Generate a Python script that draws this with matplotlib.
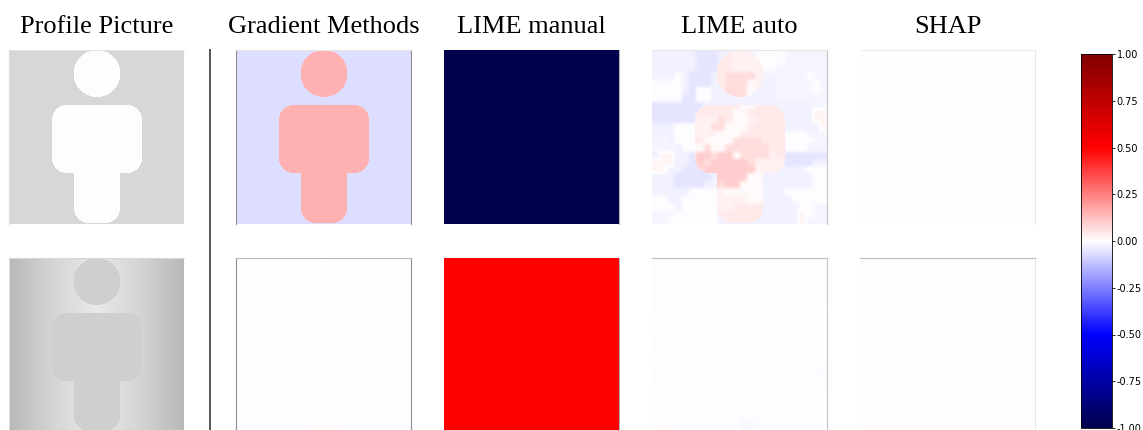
import matplotlib
matplotlib.use("Agg")
import matplotlib.pyplot as plt
import numpy as np
from matplotlib.lines import Line2D

titles = ["Profile Picture", "Gradient Methods", "LIME manual", "LIME auto", "SHAP"]
cbar_ticks = [-1.0, -0.75, -0.5, -0.25, 0.0, 0.25, 0.5, 0.75, 1.0]

# gray levels of the inputs
profile_top = [0.84, 0.99]
profile_bottom_stops = [0.91, 0.83, 0.72]
profile_bottom_person = 0.81

# attribution values (background, person)
gradient_top = [-0.069, 0.153]
gradient_bottom = [-0.006, 0.002]
manual_top = [-1.0, -1.0]
manual_bottom = [0.5, 0.5]
shap_top = [0.003, 0.003]
shap_bottom = [0.002, 0.002]

levels = {"w": -0.005, "a": -0.018, "b": -0.028, "c": -0.05, "p": 0.018,
          "q": 0.008, "r": 0.025, "s": 0.04, "t": 0.065, "u": 0.1}
lime_top_bg = [
    "bbbbbbcccbbbbbwwwwaaaaaa",
    "bbbbbbcccbbbbbwwwwaaaaaa",
    "bbbbbbcccbbbbbwwwaaaaaaa",
    "bbbwbcccbbbbbbbbbaaaawaa",
    "wwwwbcccbbbbbbbbbaaaaawa",
    "wwwwbcwwbbbbbbbbbaaaaawa",
    "wwwwccwwbbbbbbbbbaaaaaaa",
    "cccccccbbbbbbbbbbbbbbbaa",
    "ccccccccbbbbbbbbbbbbbbpp",
    "ccccccccbbbbbbbbbbbbbbpp",
    "bbbwwwwwbbbbbbbbbbbbbbbp",
    "bbbwwwwwbbbbbbbbbbwwwaaa",
    "aabwwwwwbbbbbbbbbbwwwwaa",
    "aaabwwwwbbbbbbbbbbwwwaaa",
    "bppbbcccbbbbbbbbbbcccccc",
    "pppbbcccbbbbbbbbbbccccbb",
    "ppbbccccbbbbbbbbbbbbbwww",
    "bbbcccccbbbbbbbbbbbbbbww",
    "bbbccccbbbbbbbbbbbbbbbww",
    "bbbbbwwwwbbbbbbbbbwwwwww",
    "wwbbwwwwwbbbbbbbbbbwwwww",
    "wwwbwwwwwbbbbbbbbbbbwwaa",
    "aaawwwwwwbbbbbbbbbbbpwaa",
    "aawwwwwwwbbbbbbbbbbbpaaa",
]
lime_top_person = [
    "sssssssssssrrrrrrsssssss",
    "sssssssssssrrrrrssssssss",
    "sssssssssssrrrrrrsssssss",
    "ssssssssssttttrrssssssss",
    "sssssssssstttqrrssssssss",
    "sssssssssstttqrrssssssss",
    "sssssssssstttqrrssssssss",
    "ssssssssssssqqssssssssss",
    "sssssssssssqqsssssssssss",
    "ssssssrrrtsqqrssssssssss",
    "ssssssrrttqqqsssssssssss",
    "ssssssrrrqqqssssssssssss",
    "sssssssqqqqttttsssssssss",
    "sssssqqtqqttttttssssssss",
    "ssssssuutuuqttttrsssssss",
    "ssssstutuuuuutrrrrssssss",
    "sssssrtuuuuuuurrrrssssss",
    "ssssstuuuuuuuqqrrrssssss",
    "ssssssssutuuqqqqqsssssss",
    "ssssssssrrqqqqqqqsssssss",
    "sssssssssrrrrqqqqsssssss",
    "ssssssssrrrssssssrrsssss",
    "sssssssssssssssssrrsssss",
    "ssssssssrrsssssssqqsssss",
]
lime_bottom_levels = {"n": -0.001, "o": -0.004, "x": -0.009, "y": 0.003, "z": 0.006}
lime_bottom_bg = [
    "nynyyyyyyyyynooonnnnnnnn",
    "nnnyyyyyyyyynooonnnnnnnn",
    "nnnyyynnnnnnnooonnnnnnnn",
    "oonyyynnnnnnnooonnnnnnnn",
    "oonnnnnnnnyzynnnnnnnnnnn",
    "oonnnnnnnnyzzynnnnnnnnnn",
    "oonnnnnnnnyzzynnnnnnnnoo",
    "oonnnnnnyzzzzynnnnnnnnyy",
    "yyyyynnnyzzzzynnnnnnnnyy",
    "yyyyynnnnoooooooonnnnnyy",
    "nnyyynnnnnnnnooooooonnyy",
    "nnyyynnnnnnnnooooooonnyy",
    "nnyyynnnnnnnnoooooyyzzyy",
    "yyyyynnnnnnnnoooooyyzzyy",
    "yyyynnnnnnnnnnoooooyyyoo",
    "nnnnnnnnnnnnnnoooooyyyxo",
    "nnnnnnnnnnnnnnnooooyyynn",
    "nnnnnnnnnnnnnnnnnnnyyynn",
    "yynnnnnnnnnnnnnnnyyyyyyn",
    "yynnnnnnnnnnnnnnnyyyyyyz",
    "yynnnnnnnoooooooonnnnnzz",
    "yyynnnnnnoooooooonnnnnzz",
    "yyynnnnnnoooxxooonnnnnyy",
    "yyynnnnnnoooxxooonnnnnnn",
]

# which edges each column shows: left, right, top (row 1 / row 2)
edge_left = ["#dddddd", "#909090", None, None, None]
edge_right = [None, "#909090", "#b0b0b0", "#c4c4c4", "#e8e8e8"]
edge_top = [["#e4e4e4", "#e4e4e4", None, "#e6e6e6", "#eeeeee"],
            ["#d8d8d8", "#b8b8b8", None, "#bcbcbc", "#bcbcbc"]]


def person_mask(n=175):
    y, x = np.mgrid[0:n, 0:n] + 0.5
    mask = (x - 88) ** 2 + (y - 23.5) ** 2 < 23.5 ** 2
    for x0, x1, y0, y1, r in [(43, 133, 55, 124, 15), (65, 111, 100, 174, 15)]:
        dx = np.maximum(np.maximum(x0 + r - x, x - (x1 - r)), 0)
        dy = np.maximum(np.maximum(y0 + r - y, y - (y1 - r)), 0)
        mask = mask | (dx ** 2 + dy ** 2 < r ** 2)
    return mask


def grid_to_image(rows, table, n=175, soften=5):
    arr = np.array([[table[c] for c in row[:24].ljust(24, row[-1])] for row in rows])
    idx = np.arange(n) * len(rows) // n
    img = arr[np.ix_(idx, idx)]
    # take the hard stairs off the hand read cells
    pad = np.pad(img, soften, mode="edge")
    box = np.ones(soften) / soften
    pad = np.apply_along_axis(np.convolve, 0, pad, box, "same")
    pad = np.apply_along_axis(np.convolve, 1, pad, box, "same")
    return pad[soften:-soften, soften:-soften]


mask = person_mask()


def two_level(vals):
    return np.where(mask, vals[1], vals[0])


grad = np.interp(np.abs(np.linspace(-1, 1, 175)), [0, 0.5, 1], profile_bottom_stops)
profile_bottom = np.where(mask, profile_bottom_person, grad[None, :])

lime_top = np.where(mask, grid_to_image(lime_top_person, levels), grid_to_image(lime_top_bg, levels))
lime_bottom = grid_to_image(lime_bottom_bg, lime_bottom_levels)

W, H = 1143, 430
fig = plt.figure(figsize=(W / 100, H / 100), dpi=100)

lefts = [9, 236, 444, 652, 860]
images = [
    [two_level(profile_top), two_level(gradient_top), two_level(manual_top), lime_top, two_level(shap_top)],
    [profile_bottom, two_level(gradient_bottom), two_level(manual_bottom), lime_bottom, two_level(shap_bottom)],
]
for r, top in enumerate([50, 258]):
    for c, left in enumerate(lefts):
        ax = fig.add_axes([left / W, 1 - (top + 174) / H, 175 / W, 174 / H])
        ax.set_xticks([])
        ax.set_yticks([])
        ax.spines["bottom"].set_visible(False)
        for side, col in [("left", edge_left[c]), ("right", edge_right[c]), ("top", edge_top[r][c])]:
            ax.spines[side].set_visible(col is not None)
            if col is not None:
                ax.spines[side].set_color(col)
                ax.spines[side].set_linewidth(0.8)
        if c == 0:
            ax.imshow(images[r][c], cmap="gray", vmin=0, vmax=1, aspect="auto", interpolation="nearest")
        else:
            im = ax.imshow(images[r][c], cmap="seismic", vmin=-1, vmax=1, aspect="auto", interpolation="nearest")
        if r == 0:
            ax.set_title(titles[c], family="Liberation Serif", fontsize=19, pad=12)

fig.add_artist(Line2D([210 / W, 210 / W], [0, 1 - 50 / H], color="#555555", lw=1.4))

cax = fig.add_axes([1081 / W, 1 - 428 / H, 31 / W, 374 / H])
cb = fig.colorbar(im, cax=cax, ticks=cbar_ticks, format="%.2f")
cb.ax.tick_params(labelsize=7, length=2, width=0.6, pad=1.5)
cb.outline.set_linewidth(0.6)

fig.savefig("out.png", dpi=100)
